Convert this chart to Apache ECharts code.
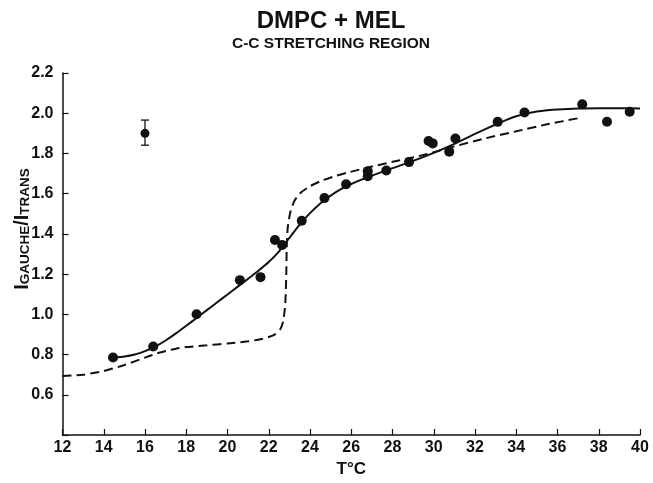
<!DOCTYPE html>
<html>
<head>
<meta charset="utf-8">
<script src="https://cdn.jsdelivr.net/npm/echarts@6/dist/echarts.min.js"></script>
<style>html,body{margin:0;padding:0;background:#fff;}#c{width:653px;height:483px;}</style>
</head>
<body>
<div id="c"></div>
<script>
// Measured points (T in °C, I_gauche/I_trans)
const pointT = [14.45, 16.4, 18.5, 20.6, 21.6, 22.3, 22.65, 23.6, 24.7, 25.75, 26.8, 26.8, 27.7, 28.8, 29.75, 29.95, 30.75, 31.05, 33.1, 34.4, 37.2, 38.4, 39.5];
const pointI = [0.785, 0.84, 1.00, 1.17, 1.185, 1.37, 1.345, 1.465, 1.578, 1.647, 1.687, 1.712, 1.715, 1.757, 1.862, 1.850, 1.809, 1.874, 1.957, 2.004, 2.044, 1.958, 2.007];

// Solid fitted curve
const fitT = [14.45, 15.0, 15.5, 16.0, 16.5, 17.0, 17.5, 18.0, 18.5, 19.0, 19.5, 20.0, 20.5, 21.0, 21.5, 22.0, 22.5, 23.0, 23.5, 24.0, 24.5, 25.0, 25.5, 26.0, 26.5, 27.0, 28.0, 29.0, 30.0, 31.0, 32.0, 33.0, 33.5, 34.0, 34.5, 35.0, 35.5, 36.0, 37.0, 38.0, 39.0, 40.0];
const fitI = [0.785, 0.790, 0.800, 0.817, 0.840, 0.870, 0.905, 0.943, 0.982, 1.021, 1.060, 1.099, 1.138, 1.177, 1.217, 1.260, 1.313, 1.380, 1.446, 1.503, 1.551, 1.590, 1.622, 1.648, 1.670, 1.690, 1.727, 1.763, 1.803, 1.848, 1.897, 1.944, 1.966, 1.985, 1.999, 2.009, 2.015, 2.019, 2.023, 2.025, 2.025, 2.024];

// Dashed curve
const dashT = [12.0, 13.0, 14.0, 15.0, 16.0, 16.5, 17.0, 17.5, 18.0, 19.0, 20.0, 21.0, 21.6, 22.0, 22.3, 22.55, 22.7, 22.8, 22.85, 22.87, 22.92, 23.05, 23.25, 23.55, 24.0, 24.6, 25.2, 25.8, 27.0, 28.3, 29.5, 31.0, 32.5, 34.0, 35.5, 37.0];
const dashI = [0.693, 0.700, 0.718, 0.748, 0.785, 0.803, 0.818, 0.829, 0.837, 0.846, 0.855, 0.866, 0.876, 0.887, 0.900, 0.925, 0.965, 1.050, 1.200, 1.330, 1.430, 1.510, 1.565, 1.605, 1.637, 1.666, 1.687, 1.704, 1.735, 1.765, 1.792, 1.835, 1.875, 1.910, 1.945, 1.975];

// Representative error bar
const errT = [16.0];
const errI = [1.90];
const errLow = [1.841];
const errHigh = [1.966];

// Axis ticks
const xTicks = [12, 14, 16, 18, 20, 22, 24, 26, 28, 30, 32, 34, 36, 38, 40];
const yTicks = [0.6, 0.8, 1.0, 1.2, 1.4, 1.6, 1.8, 2.0, 2.2];

const zip = (a, b) => a.map((v, i) => [v, b[i]]);
const FONT = '"Liberation Sans Narrow", "Liberation Sans", Arial, sans-serif';

const chart = echarts.init(document.getElementById('c'), null, {renderer: 'canvas'});
chart.setOption({
  animation: false,
  backgroundColor: '#fff',
  title: {
    text: 'DMPC + MEL',
    subtext: 'C-C STRETCHING REGION',
    left: 326, top: 4, textAlign: 'center',
    itemGap: 3,
    textStyle: {fontFamily: FONT, fontSize: 24, fontWeight: 'bold', color: '#111'},
    subtextStyle: {fontFamily: FONT, fontSize: 15.5, fontWeight: 'bold', color: '#111'}
  },
  grid: {left: 62.5, right: 13, top: 73, bottom: 38, containLabel: false},
  xAxis: {
    type: 'value', min: 12, max: 40, interval: 2,
    name: 'T°C', nameLocation: 'middle', nameGap: 26,
    nameTextStyle: {fontFamily: FONT, fontSize: 17, fontWeight: 'bold', color: '#111'},
    axisLine: {show: true, onZero: false, lineStyle: {color: '#111', width: 1.5}},
    axisTick: {show: true, inside: true, length: 6, lineStyle: {color: '#111', width: 1.2}},
    axisLabel: {fontFamily: FONT, fontSize: 16, fontWeight: 'bold', color: '#111', margin: 5,
      formatter: v => xTicks.includes(v) ? String(v) : ''},
    splitLine: {show: false}
  },
  yAxis: {
    type: 'value', min: 0.4, max: 2.2, interval: 0.2,
    axisLine: {show: true, onZero: false, lineStyle: {color: '#111', width: 1.5}},
    axisTick: {show: true, inside: true, length: 6, lineStyle: {color: '#111', width: 1.2}},
    axisLabel: {fontFamily: FONT, fontSize: 16, fontWeight: 'bold', color: '#111', margin: 9,
      formatter: v => {
        const t = yTicks.find(y => Math.abs(y - v) < 1e-6);
        return t === undefined ? '' : t.toFixed(1);
      }},
    splitLine: {show: false}
  },
  graphic: [{
    type: 'text', x: 22, y: 229, rotation: Math.PI / 2,
    style: {
      text: '{b|I}{s|GAUCHE}{b|/I}{s|TRANS}',
      align: 'center', verticalAlign: 'middle',
      rich: {
        b: {fontFamily: FONT, fontSize: 20, fontWeight: 'bold', fill: '#111', lineHeight: 20, verticalAlign: 'bottom'},
        s: {fontFamily: FONT, fontSize: 13.5, fontWeight: 'bold', fill: '#111', lineHeight: 20, verticalAlign: 'bottom'}
      }
    }
  }],
  series: [
    {
      type: 'line', data: zip(dashT, dashI), smooth: 0.2, symbol: 'none',
      lineStyle: {color: '#111', width: 2, type: [9, 5]}, z: 2
    },
    {
      type: 'line', data: zip(fitT, fitI), smooth: 0.2, symbol: 'none',
      lineStyle: {color: '#111', width: 2}, z: 3
    },
    {
      type: 'scatter', data: zip(pointT, pointI), symbol: 'circle', symbolSize: 10,
      itemStyle: {color: '#111', opacity: 1}, z: 4
    },
    {
      type: 'custom', z: 4,
      data: errT.map((t, i) => [t, errI[i], errLow[i], errHigh[i]]),
      renderItem: (params, api) => {
        const c = api.coord([api.value(0), api.value(1)]);
        const lo = api.coord([api.value(0), api.value(2)]);
        const hi = api.coord([api.value(0), api.value(3)]);
        const w = 4;
        const ls = {stroke: '#111', lineWidth: 1.3};
        return {type: 'group', children: [
          {type: 'line', shape: {x1: lo[0], y1: lo[1], x2: hi[0], y2: hi[1]}, style: ls},
          {type: 'line', shape: {x1: lo[0] - w, y1: lo[1], x2: lo[0] + w, y2: lo[1]}, style: ls},
          {type: 'line', shape: {x1: hi[0] - w, y1: hi[1], x2: hi[0] + w, y2: hi[1]}, style: ls},
          {type: 'circle', shape: {cx: c[0], cy: c[1], r: 4.5}, style: {fill: '#111'}}
        ]};
      }
    }
  ]
});
</script>
</body>
</html>
